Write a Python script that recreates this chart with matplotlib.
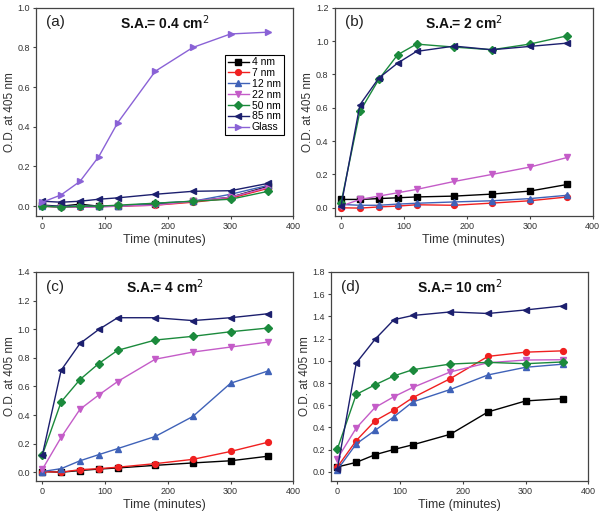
import matplotlib
matplotlib.use("Agg")
from matplotlib import pyplot as plt

time = [0, 30, 60, 90, 120, 180, 240, 300, 360]
labels = ["4 nm", "7 nm", "12 nm", "22 nm", "50 nm", "85 nm", "Glass"]
colors = ["#000000", "#f02020", "#3f62b8", "#c45cc8", "#1b8a3c", "#1c1f6e", "#8a62d6"]
markers = ["s", "o", "^", "v", "D", "<", ">"]

# panel (a) S.A. = 0.4 cm2
a_4nm = [0.005, 0.0, 0.01, 0.0, 0.0, 0.01, 0.025, 0.045, 0.10]
a_7nm = [0.0, -0.005, -0.005, 0.0, 0.0, 0.005, 0.02, 0.04, 0.09]
a_12nm = [0.0, 0.0, 0.0, 0.0, 0.0, 0.015, 0.025, 0.06, 0.105]
a_22nm = [0.0, -0.005, -0.005, -0.005, 0.0, 0.005, 0.025, 0.045, 0.095]
a_50nm = [0.0, -0.005, 0.0, 0.0, 0.005, 0.015, 0.025, 0.035, 0.075]
a_85nm = [0.025, 0.02, 0.025, 0.035, 0.042, 0.06, 0.075, 0.078, 0.115]
a_glass = [0.02, 0.057, 0.125, 0.25, 0.42, 0.68, 0.80, 0.868, 0.877]

# panel (b) S.A. = 2 cm2
b_4nm = [0.05, 0.05, 0.055, 0.06, 0.065, 0.07, 0.082, 0.10, 0.14]
b_7nm = [0.0, -0.002, 0.005, 0.01, 0.018, 0.015, 0.028, 0.042, 0.065]
b_12nm = [0.02, 0.015, 0.015, 0.022, 0.027, 0.035, 0.042, 0.055, 0.075]
b_22nm = [0.01, 0.05, 0.07, 0.09, 0.11, 0.158, 0.20, 0.244, 0.302]
b_50nm = [0.03, 0.578, 0.77, 0.918, 0.982, 0.964, 0.948, 0.982, 1.032]
b_85nm = [0.01, 0.618, 0.778, 0.868, 0.938, 0.97, 0.948, 0.968, 0.988]

# panel (c) S.A. = 4 cm2
c_4nm = [0.005, 0.0, 0.012, 0.022, 0.03, 0.048, 0.065, 0.08, 0.112]
c_7nm = [0.005, 0.0, 0.018, 0.025, 0.035, 0.06, 0.09, 0.145, 0.21]
c_12nm = [0.005, 0.025, 0.08, 0.123, 0.165, 0.25, 0.39, 0.622, 0.708]
c_22nm = [0.02, 0.244, 0.44, 0.54, 0.634, 0.79, 0.84, 0.875, 0.91]
c_50nm = [0.12, 0.492, 0.648, 0.76, 0.852, 0.924, 0.95, 0.982, 1.008]
c_85nm = [0.12, 0.713, 0.90, 0.998, 1.08, 1.08, 1.06, 1.08, 1.108]

# panel (d) S.A. = 10 cm2
d_4nm = [0.045, 0.086, 0.155, 0.202, 0.244, 0.339, 0.54, 0.639, 0.66]
d_7nm = [0.045, 0.282, 0.46, 0.555, 0.668, 0.84, 1.04, 1.078, 1.09]
d_12nm = [0.02, 0.252, 0.374, 0.496, 0.63, 0.742, 0.873, 0.942, 0.97]
d_22nm = [0.12, 0.395, 0.58, 0.677, 0.76, 0.90, 0.983, 1.007, 1.01]
d_50nm = [0.208, 0.698, 0.784, 0.864, 0.92, 0.971, 0.986, 0.974, 0.99]
d_85nm = [0.03, 0.98, 1.194, 1.37, 1.408, 1.44, 1.426, 1.458, 1.494]

panels = [
    ("(a)", "S.A.= 0.4 cm$^2$", [a_4nm, a_7nm, a_12nm, a_22nm, a_50nm, a_85nm, a_glass], (-0.05, 1.0), 0.2),
    ("(b)", "S.A.= 2 cm$^2$", [b_4nm, b_7nm, b_12nm, b_22nm, b_50nm, b_85nm], (-0.05, 1.2), 0.2),
    ("(c)", "S.A.= 4 cm$^2$", [c_4nm, c_7nm, c_12nm, c_22nm, c_50nm, c_85nm], (-0.06, 1.4), 0.2),
    ("(d)", "S.A.= 10 cm$^2$", [d_4nm, d_7nm, d_12nm, d_22nm, d_50nm, d_85nm], (-0.08, 1.8), 0.2),
]

positions = [
    [0.060, 0.582, 0.428, 0.403],
    [0.557, 0.582, 0.429, 0.403],
    [0.060, 0.070, 0.428, 0.404],
    [0.551, 0.070, 0.428, 0.404],
]

plt.rcParams["font.family"] = ["Liberation Sans", "DejaVu Sans"]
fig = plt.figure(figsize=(6.01, 5.17), dpi=100)

for i, (tag, title, series, ylim, ystep) in enumerate(panels):
    ax = fig.add_axes(positions[i])
    for j, vals in enumerate(series):
        ax.plot(time, vals, color=colors[j], marker=markers[j], markersize=4.2,
                linewidth=1.0, label=labels[j])
    ax.set_xlim(-10, 400)
    ax.set_ylim(*ylim)
    ax.set_xticks([0, 100, 200, 300, 400])
    yt = [round(k * ystep, 1) for k in range(int(round(ylim[1] / ystep)) + 1)]
    ax.set_yticks(yt)
    ax.set_yticklabels(["%.1f" % v for v in yt])
    ax.tick_params(labelsize=6.5, length=2.5, width=0.8, pad=2, colors="#444444", labelcolor="#333333")
    ax.set_xlabel("Time (minutes)", fontsize=9, color="#333333", labelpad=2)
    ax.set_ylabel("O.D. at 405 nm", fontsize=8.5, color="#333333", labelpad=1)
    for s in ax.spines.values():
        s.set_color("#444444")
        s.set_linewidth(0.9)
    ax.text(0.04, 0.93, tag, transform=ax.transAxes, fontsize=11, va="center", color="#222222")
    ax.text(0.5, 0.93, title, transform=ax.transAxes, fontsize=10, fontweight="bold",
            ha="center", va="center", color="#111111")
    if i == 0:
        leg = ax.legend(loc="upper right", bbox_to_anchor=(0.962, 0.775), fontsize=7.5,
                        fancybox=False, framealpha=1, edgecolor="black",
                        handlelength=2.0, handletextpad=0.3, borderpad=0.25,
                        labelspacing=0.08, borderaxespad=0)
        leg.get_frame().set_linewidth(0.8)

fig.savefig("out.png", dpi=100)
